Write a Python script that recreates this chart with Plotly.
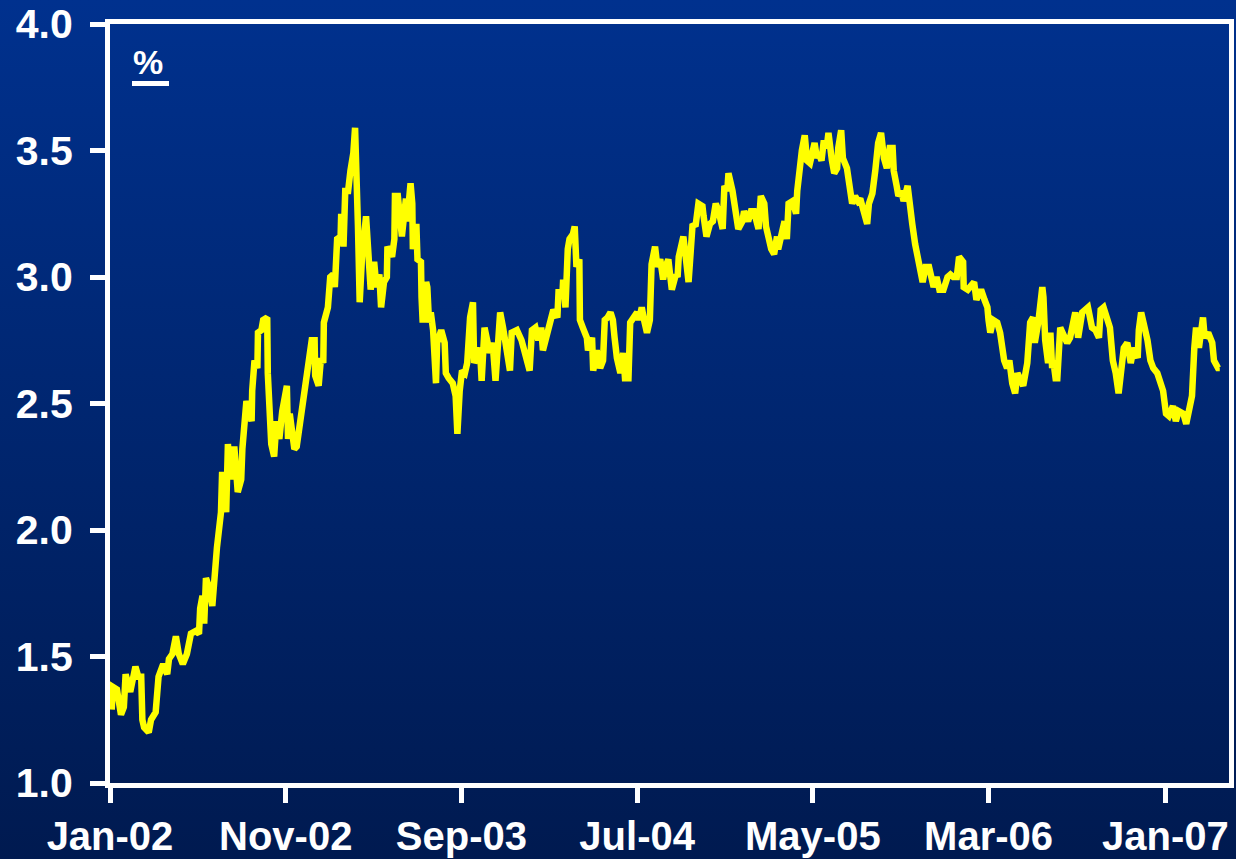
import base64
import plotly.graph_objects as go

# ---------------- data ----------------
dates = [
    "2002-01-04", "2002-01-06", "2002-01-13", "2002-01-20", "2002-01-25", "2002-01-28",
    "2002-02-05", "2002-02-09", "2002-02-14", "2002-02-19", "2002-02-24", "2002-02-26",
    "2002-03-01", "2002-03-09", "2002-03-13", "2002-03-21", "2002-03-23", "2002-03-26",
    "2002-04-03", "2002-04-10", "2002-04-13", "2002-04-19", "2002-04-25", "2002-04-30",
    "2002-05-07", "2002-05-14", "2002-05-21", "2002-05-29",
    "2002-06-04", "2002-06-06", "2002-06-10", "2002-06-13", "2002-06-16", "2002-06-22", "2002-06-27", "2002-06-30",
    "2002-07-05", "2002-07-12", "2002-07-14", "2002-07-21", "2002-07-24", "2002-07-29",
    "2002-08-04", "2002-08-10", "2002-08-16", "2002-08-18", "2002-08-25",
    "2002-09-03", "2002-09-04", "2002-09-08", "2002-09-13", "2002-09-14", "2002-09-20", "2002-09-23", "2002-09-30",
    "2002-10-01", "2002-10-04", "2002-10-07", "2002-10-12", "2002-10-16", "2002-10-21", "2002-10-26",
    "2002-11-03", "2002-11-05", "2002-11-08", "2002-11-16", "2002-11-20", "2002-11-25",
    "2002-12-01", "2002-12-04", "2002-12-09", "2002-12-16", "2002-12-21", "2002-12-22", "2002-12-28",
    "2003-01-01", "2003-01-05", "2003-01-06", "2003-01-13", "2003-01-17", "2003-01-22", "2003-01-25", "2003-01-29",
    "2003-02-04", "2003-02-05", "2003-02-09", "2003-02-12", "2003-02-17", "2003-02-21", "2003-02-26",
    "2003-03-01", "2003-03-04", "2003-03-06", "2003-03-09", "2003-03-13", "2003-03-20", "2003-03-25", "2003-03-28",
    "2003-04-03", "2003-04-07", "2003-04-12", "2003-04-15", "2003-04-20", "2003-04-25", "2003-04-26",
    "2003-05-04", "2003-05-08", "2003-05-09", "2003-05-14", "2003-05-20", "2003-05-21", "2003-05-28", "2003-05-30",
    "2003-06-05", "2003-06-08", "2003-06-09", "2003-06-15", "2003-06-17", "2003-06-23", "2003-06-24", "2003-06-26",
    "2003-07-02", "2003-07-04", "2003-07-07", "2003-07-10", "2003-07-14", "2003-07-19", "2003-07-21", "2003-07-28",
    "2003-08-03", "2003-08-05", "2003-08-10", "2003-08-17", "2003-08-22", "2003-08-25", "2003-08-29",
    "2003-09-02", "2003-09-07", "2003-09-11", "2003-09-16", "2003-09-21", "2003-09-23", "2003-09-29",
    "2003-10-03", "2003-10-06", "2003-10-11", "2003-10-20", "2003-10-25", "2003-10-30",
    "2003-11-07", "2003-11-12", "2003-11-19", "2003-11-24", "2003-11-27",
    "2003-12-06", "2003-12-14", "2003-12-20", "2003-12-23", "2003-12-28",
    "2004-01-01", "2004-01-07", "2004-01-12", "2004-01-17", "2004-01-20", "2004-01-27",
    "2004-02-02", "2004-02-07", "2004-02-14", "2004-02-16", "2004-02-23", "2004-02-24", "2004-02-28", "2004-02-29",
    "2004-03-03", "2004-03-06", "2004-03-12", "2004-03-15", "2004-03-18", "2004-03-23", "2004-03-24", "2004-03-29",
    "2004-04-05", "2004-04-07", "2004-04-14", "2004-04-16", "2004-04-22", "2004-04-28",
    "2004-05-03", "2004-05-06", "2004-05-11", "2004-05-16", "2004-05-20", "2004-05-23", "2004-05-27",
    "2004-06-02", "2004-06-07", "2004-06-10", "2004-06-16", "2004-06-19", "2004-06-24",
    "2004-07-01", "2004-07-04", "2004-07-09", "2004-07-13", "2004-07-18", "2004-07-23", "2004-07-26",
    "2004-08-01", "2004-08-05", "2004-08-10", "2004-08-15", "2004-08-19", "2004-08-24", "2004-08-30",
    "2004-09-06", "2004-09-09", "2004-09-11", "2004-09-19", "2004-09-23", "2004-09-28",
    "2004-10-05", "2004-10-10", "2004-10-15", "2004-10-22", "2004-10-24", "2004-10-29",
    "2004-11-04", "2004-11-09", "2004-11-14", "2004-11-19", "2004-11-26", "2004-11-29",
    "2004-12-04", "2004-12-06", "2004-12-13", "2004-12-18", "2004-12-23", "2004-12-30",
    "2005-01-02", "2005-01-09", "2005-01-14", "2005-01-19", "2005-01-24", "2005-01-27", "2005-01-31",
    "2005-02-06", "2005-02-09", "2005-02-13", "2005-02-18", "2005-02-23", "2005-02-28",
    "2005-03-02", "2005-03-08", "2005-03-13", "2005-03-17", "2005-03-20", "2005-03-27",
    "2005-04-02", "2005-04-04", "2005-04-07", "2005-04-12", "2005-04-17", "2005-04-21", "2005-04-26",
    "2005-05-01", "2005-05-04", "2005-05-08", "2005-05-11", "2005-05-16", "2005-05-20", "2005-05-25", "2005-05-28",
    "2005-06-03", "2005-06-07", "2005-06-12", "2005-06-14", "2005-06-19", "2005-06-22", "2005-06-29",
    "2005-07-04", "2005-07-08", "2005-07-13", "2005-07-18", "2005-07-22", "2005-07-27",
    "2005-08-03", "2005-08-06", "2005-08-12", "2005-08-17", "2005-08-22", "2005-08-27",
    "2005-09-01", "2005-09-06", "2005-09-11", "2005-09-16", "2005-09-18", "2005-09-23", "2005-09-26",
    "2005-10-01", "2005-10-05", "2005-10-12", "2005-10-17", "2005-10-20", "2005-10-25", "2005-10-29",
    "2005-11-04", "2005-11-07", "2005-11-12", "2005-11-18", "2005-11-23", "2005-11-26",
    "2005-12-01", "2005-12-06", "2005-12-13", "2005-12-20", "2005-12-25", "2005-12-30",
    "2006-01-05", "2006-01-09", "2006-01-16", "2006-01-17", "2006-01-24", "2006-01-29",
    "2006-02-04", "2006-02-08", "2006-02-13", "2006-02-16", "2006-02-22", "2006-02-27",
    "2006-03-01", "2006-03-04", "2006-03-09", "2006-03-16", "2006-03-21", "2006-03-24", "2006-03-28",
    "2006-04-02", "2006-04-06", "2006-04-11", "2006-04-16", "2006-04-20", "2006-04-25", "2006-04-30",
    "2006-05-07", "2006-05-12", "2006-05-17", "2006-05-20", "2006-05-26",
    "2006-06-02", "2006-06-04", "2006-06-07", "2006-06-12", "2006-06-16", "2006-06-19", "2006-06-21", "2006-06-25", "2006-06-28",
    "2006-07-03", "2006-07-08", "2006-07-15", "2006-07-20", "2006-07-25", "2006-07-29",
    "2006-08-03", "2006-08-10", "2006-08-15", "2006-08-20", "2006-08-27",
    "2006-09-02", "2006-09-08", "2006-09-11", "2006-09-16", "2006-09-23", "2006-09-27",
    "2006-10-02", "2006-10-07", "2006-10-12", "2006-10-15", "2006-10-21", "2006-10-27",
    "2006-11-02", "2006-11-07", "2006-11-14", "2006-11-16", "2006-11-20", "2006-11-24",
    "2006-12-01", "2006-12-06", "2006-12-11", "2006-12-18", "2006-12-23", "2006-12-28",
    "2007-01-02", "2007-01-07", "2007-01-14", "2007-01-19", "2007-01-24",
    "2007-02-01", "2007-02-06", "2007-02-11", "2007-02-16", "2007-02-20", "2007-02-23", "2007-02-28",
    "2007-03-03", "2007-03-07", "2007-03-10", "2007-03-16", "2007-03-23", "2007-03-26",
    "2007-04-02", "2007-04-05",
]

values = [
    1.29, 1.38, 1.37, 1.27, 1.30, 1.43,
    1.36, 1.40, 1.46, 1.42, 1.42, 1.25,
    1.22, 1.20, 1.25, 1.28, 1.38, 1.42,
    1.47, 1.43, 1.49, 1.51, 1.58, 1.51,
    1.47, 1.51, 1.59, 1.60,
    1.59, 1.69, 1.74, 1.63, 1.81, 1.77, 1.70, 1.81,
    1.93, 2.07, 2.23, 2.07, 2.34, 2.20,
    2.33, 2.15, 2.20, 2.32, 2.51,
    2.43, 2.55, 2.67, 2.64, 2.78, 2.79, 2.83, 2.84,
    2.62, 2.45, 2.34, 2.29, 2.43, 2.36, 2.47,
    2.57, 2.36, 2.46, 2.32, 2.33, 2.42,
    2.50, 2.57, 2.66, 2.75, 2.75, 2.61, 2.57,
    2.68, 2.66, 2.82, 2.88, 3.00, 3.01, 2.96, 3.15,
    3.16, 3.25, 3.12, 3.34, 3.34, 3.42, 3.49,
    3.59, 3.40, 3.20, 2.90, 3.08, 3.24, 3.06, 2.95,
    3.06, 2.96, 3.01, 2.88, 2.98, 3.00, 3.12,
    3.08, 3.15, 3.32, 3.32, 3.17, 3.16, 3.31, 3.22,
    3.37, 3.29, 3.11, 3.21, 3.07, 3.06, 2.92, 2.82,
    2.98, 2.96, 2.82, 2.86, 2.79, 2.58, 2.74, 2.79,
    2.74, 2.62, 2.60, 2.58, 2.53, 2.38, 2.55,
    2.63, 2.62, 2.66, 2.84, 2.90, 2.66, 2.71,
    2.72, 2.59, 2.80, 2.70, 2.74, 2.59,
    2.86, 2.80, 2.70, 2.63, 2.78,
    2.79, 2.75, 2.70, 2.66, 2.63,
    2.79, 2.80, 2.75, 2.80, 2.71, 2.78,
    2.84, 2.87, 2.84, 2.94, 2.94, 2.99, 2.88, 3.07,
    3.11, 3.15, 3.17, 3.20, 3.04, 3.07, 2.83, 2.80,
    2.76, 2.71, 2.76, 2.63, 2.71, 2.64,
    2.67, 2.83, 2.84, 2.86, 2.83, 2.76, 2.68,
    2.62, 2.70, 2.60, 2.60, 2.82, 2.84,
    2.86, 2.83, 2.88, 2.83, 2.78, 2.83, 3.05,
    3.12, 3.04, 3.07, 2.99, 3.04, 3.07, 2.95,
    3.01, 3.00, 3.08, 3.16, 3.08, 2.98,
    3.21, 3.20, 3.29, 3.28, 3.24, 3.16,
    3.21, 3.22, 3.29, 3.26, 3.19, 3.36,
    3.34, 3.41, 3.34, 3.26, 3.19, 3.22,
    3.26, 3.22, 3.26, 3.26, 3.21, 3.19, 3.32,
    3.29, 3.20, 3.15, 3.11, 3.09, 3.16,
    3.11, 3.19, 3.22, 3.15, 3.29, 3.30,
    3.25, 3.34, 3.43, 3.50, 3.56, 3.46, 3.45,
    3.51, 3.53, 3.47, 3.49, 3.46, 3.54, 3.51, 3.57,
    3.46, 3.41, 3.43, 3.51, 3.58, 3.47, 3.43,
    3.37, 3.29, 3.32, 3.30, 3.31, 3.26,
    3.21, 3.29, 3.33, 3.42, 3.53, 3.57,
    3.47, 3.43, 3.51, 3.51, 3.42, 3.36, 3.32,
    3.34, 3.30, 3.36, 3.29, 3.21, 3.13, 3.08,
    3.02, 2.98, 3.04, 3.04, 2.99, 2.96,
    3.00, 2.95, 2.95, 3.00, 3.01, 3.00,
    3.00, 3.08, 3.06, 2.96, 2.95, 2.96,
    2.98, 2.91, 2.94, 2.95, 2.91, 2.88,
    2.83, 2.78, 2.83, 2.82, 2.78, 2.71, 2.67,
    2.64, 2.67, 2.58, 2.54, 2.62, 2.60, 2.57,
    2.66, 2.82, 2.84, 2.74, 2.82,
    2.96, 2.92, 2.75, 2.66, 2.78, 2.64, 2.67, 2.60, 2.60,
    2.80, 2.78, 2.74, 2.76, 2.82, 2.86,
    2.76, 2.86, 2.87, 2.88, 2.80,
    2.79, 2.76, 2.87, 2.88, 2.83, 2.80,
    2.67, 2.62, 2.54, 2.59, 2.72, 2.74,
    2.66, 2.72, 2.68, 2.79, 2.86, 2.82,
    2.75, 2.67, 2.64, 2.62, 2.58, 2.55,
    2.46, 2.45, 2.49, 2.43, 2.47,
    2.46, 2.42, 2.47, 2.53, 2.72, 2.80, 2.72,
    2.80, 2.84, 2.76, 2.78, 2.74, 2.67,
    2.64, 2.64,
]

tick_dates = ["2002-01-01", "2002-11-01", "2003-09-01", "2004-07-01",
              "2005-05-01", "2006-03-01", "2007-01-01"]
tick_labels = ["Jan-02", "Nov-02", "Sep-03", "Jul-04", "May-05", "Mar-06", "Jan-07"]
y_ticks = [1.0, 1.5, 2.0, 2.5, 3.0, 3.5, 4.0]
unit_label = "%"

# ---------------- styling ----------------
W, H = 1236, 859
ML, MR, MT, MB = 110, 7, 24, 76
FONT = "Liberation Sans, Arial, sans-serif"

svg = f"""<svg xmlns='http://www.w3.org/2000/svg' width='{W}' height='{H}' preserveAspectRatio='none'>
<defs><linearGradient id='g' x1='0' y1='0' x2='0' y2='1'>
<stop offset='0' stop-color='#00318E'/><stop offset='1' stop-color='#001A50'/>
</linearGradient></defs>
<rect width='{W}' height='{H}' fill='url(#g)'/></svg>"""
bg_src = "data:image/svg+xml;base64," + base64.b64encode(svg.encode()).decode()

pw = W - ML - MR
ph = H - MT - MB

fig = go.Figure()
fig.add_trace(go.Scatter(
    x=dates, y=values, mode="lines",
    line=dict(color="#FFFF00", width=6.5),
    hoverinfo="skip", showlegend=False,
))

fig.update_layout(
    width=W, height=H,
    margin=dict(l=ML, r=MR, t=MT, b=MB, pad=0, autoexpand=False),
    paper_bgcolor="#00266E",
    plot_bgcolor="rgba(0,0,0,0)",
    font=dict(family=FONT, color="white"),
    showlegend=False,
    images=[dict(
        source=bg_src, xref="paper", yref="paper",
        x=-ML / pw, y=1 + MT / ph, sizex=W / pw, sizey=H / ph,
        xanchor="left", yanchor="top", sizing="stretch", layer="below",
    )],
)

fig.update_xaxes(
    type="date",
    range=["2002-01-01", "2007-04-21"],
    tickmode="array", tickvals=tick_dates, ticktext=tick_labels,
    ticks="outside", ticklen=15, tickwidth=5, tickcolor="white",
    showline=True, linewidth=5, linecolor="white", mirror=True,
    showgrid=False, zeroline=False, automargin=False,
    tickfont=dict(family=FONT, size=40, color="white", weight="bold"),
    ticklabelstandoff=-1,
)
fig.update_yaxes(
    range=[1.0, 4.0],
    tickmode="array", tickvals=y_ticks, ticktext=[f"{v:.1f}" for v in y_ticks],
    ticks="outside", ticklen=15, tickwidth=5, tickcolor="white",
    showline=True, linewidth=5, linecolor="white", mirror=True,
    showgrid=False, zeroline=False, automargin=False,
    tickfont=dict(family=FONT, size=41, color="white", weight="bold"),
    ticklabelstandoff=9,
)

# unit label with thick underline
fig.add_annotation(
    text=f"<b>{unit_label}</b>", xref="paper", yref="paper",
    x=(131 - ML) / pw, y=1 - (41 - MT) / ph, xanchor="left", yanchor="top",
    showarrow=False, font=dict(family=FONT, size=34, color="white"),
)
fig.add_shape(
    type="rect", xref="paper", yref="paper",
    x0=(132 - ML) / pw, x1=(169 - ML) / pw,
    y0=1 - (86 - MT) / ph, y1=1 - (81 - MT) / ph,
    fillcolor="white", line=dict(width=0),
)

fig.write_html("out.html")
